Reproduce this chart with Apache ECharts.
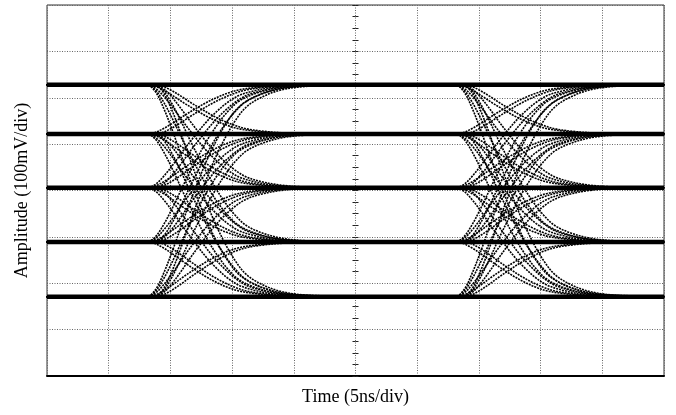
<!DOCTYPE html>
<html>
<head>
<meta charset="utf-8">
<script src="https://cdn.jsdelivr.net/npm/echarts@6/dist/echarts.min.js"></script>
<style>
  html, body { margin: 0; padding: 0; background: #fff; }
  #chart { width: 676px; height: 415px; }
</style>
</head>
<body>
<div id="chart"></div>
<script>
// Eye diagram of a five-level signal: two symbol crossings on a 10 x 8 division screen.

// Settled symbol levels (mV)
const levels = [228, 122, 6, -111, -229];
// Crossing instants relative to the trigger (ns)
const eyeCenters = [-12.75, 12.25];
// Timing spread of the accumulated edges around each crossing (ns)
const edgeJitter = [-0.3, 0.3];
// Edge shape: time from crossing (ns) and fraction of the step completed
const edgeTime     = [-12.5, -3.9, -3.2, -2.5, -1.7, -0.85, 0.0, 0.9, 1.8, 2.7, 3.6, 4.8, 6.4, 8.4, 12.5];
const edgeFraction = [0.0,   0.0,  0.03, 0.11, 0.23, 0.37,  0.5, 0.63, 0.74, 0.83, 0.895, 0.94, 0.975, 0.992, 1.0];
// Screen span
const timeRange = [-25, 25];   // 5 ns/div
const ampRange = [-400, 400];  // 100 mV/div

function edgeTrace(center, from, to) {
  return edgeTime.map((t, k) => [center + t, from + (to - from) * edgeFraction[k]]);
}

const series = [];
// Steady levels (repeated symbols) run across the whole screen
levels.forEach((v) => {
  series.push({
    type: 'line', xAxisIndex: 0, yAxisIndex: 0,
    data: [[timeRange[0], v], [timeRange[1], v]],
    showSymbol: false, symbol: 'none', silent: true,
    lineStyle: { color: '#000', width: 4.5 }
  });
});
// Every level-to-level transition at both crossings
eyeCenters.forEach((c) => {
  edgeJitter.forEach((dj) => {
    levels.forEach((a, i) => {
      levels.forEach((b, j) => {
        if (i === j) return;
        series.push({
          type: 'line', xAxisIndex: 0, yAxisIndex: 0,
          data: edgeTrace(c + dj, a, b),
          smooth: 0.35, showSymbol: false, symbol: 'none', silent: true,
          lineStyle: { color: '#000', width: 1.6, type: [2, 1] }
        });
      });
    });
  });
});

const gridDots = { color: '#666', width: 1, type: [1, 1.5] };
const hidden = { show: false };
const centreTick = { color: '#222', width: 1 };

const option = {
  animation: false,
  backgroundColor: '#fff',
  grid: {
    left: 47, right: 12, top: 5, bottom: 39,
    show: true, borderColor: '#333', borderWidth: 1
  },
  xAxis: [{
    type: 'value', min: timeRange[0], max: timeRange[1], interval: 5,
    axisLine: { show: true, onZero: false, lineStyle: { color: '#000', width: 2 } },
    axisTick: hidden, axisLabel: hidden,
    splitLine: { show: true, lineStyle: gridDots },
    name: 'Time (5ns/div)', nameLocation: 'middle', nameGap: 12,
    nameTextStyle: { fontFamily: 'Liberation Serif', fontSize: 18, color: '#000' }
  }],
  yAxis: [{
    type: 'value', min: ampRange[0], max: ampRange[1], interval: 100,
    axisLine: { show: false, onZero: false },
    axisTick: hidden, axisLabel: hidden,
    splitLine: { show: true, lineStyle: gridDots },
    name: 'Amplitude (100mV/div)', nameLocation: 'middle', nameGap: 16,
    nameTextStyle: { fontFamily: 'Liberation Serif', fontSize: 18, color: '#000' }
  }, {
    // centre graticule marks, right-hand half
    type: 'value', min: ampRange[0], max: ampRange[1], interval: 100,
    axisLine: { show: false, onZero: true, onZeroAxisIndex: 0 },
    axisTick: { show: true, inside: true, length: 3, lineStyle: centreTick },
    minorTick: { show: true, splitNumber: 4, length: 3, lineStyle: centreTick },
    axisLabel: hidden, splitLine: hidden
  }, {
    // centre graticule marks, left-hand half
    type: 'value', min: ampRange[0], max: ampRange[1], interval: 100,
    axisLine: { show: false, onZero: true, onZeroAxisIndex: 0 },
    axisTick: { show: true, inside: false, length: 3, lineStyle: centreTick },
    minorTick: { show: true, splitNumber: 4, length: 3, lineStyle: centreTick },
    axisLabel: hidden, splitLine: hidden
  }],
  series: series
};

const chart = echarts.init(document.getElementById('chart'), null, { renderer: 'canvas' });
chart.setOption(option);
</script>
</body>
</html>
